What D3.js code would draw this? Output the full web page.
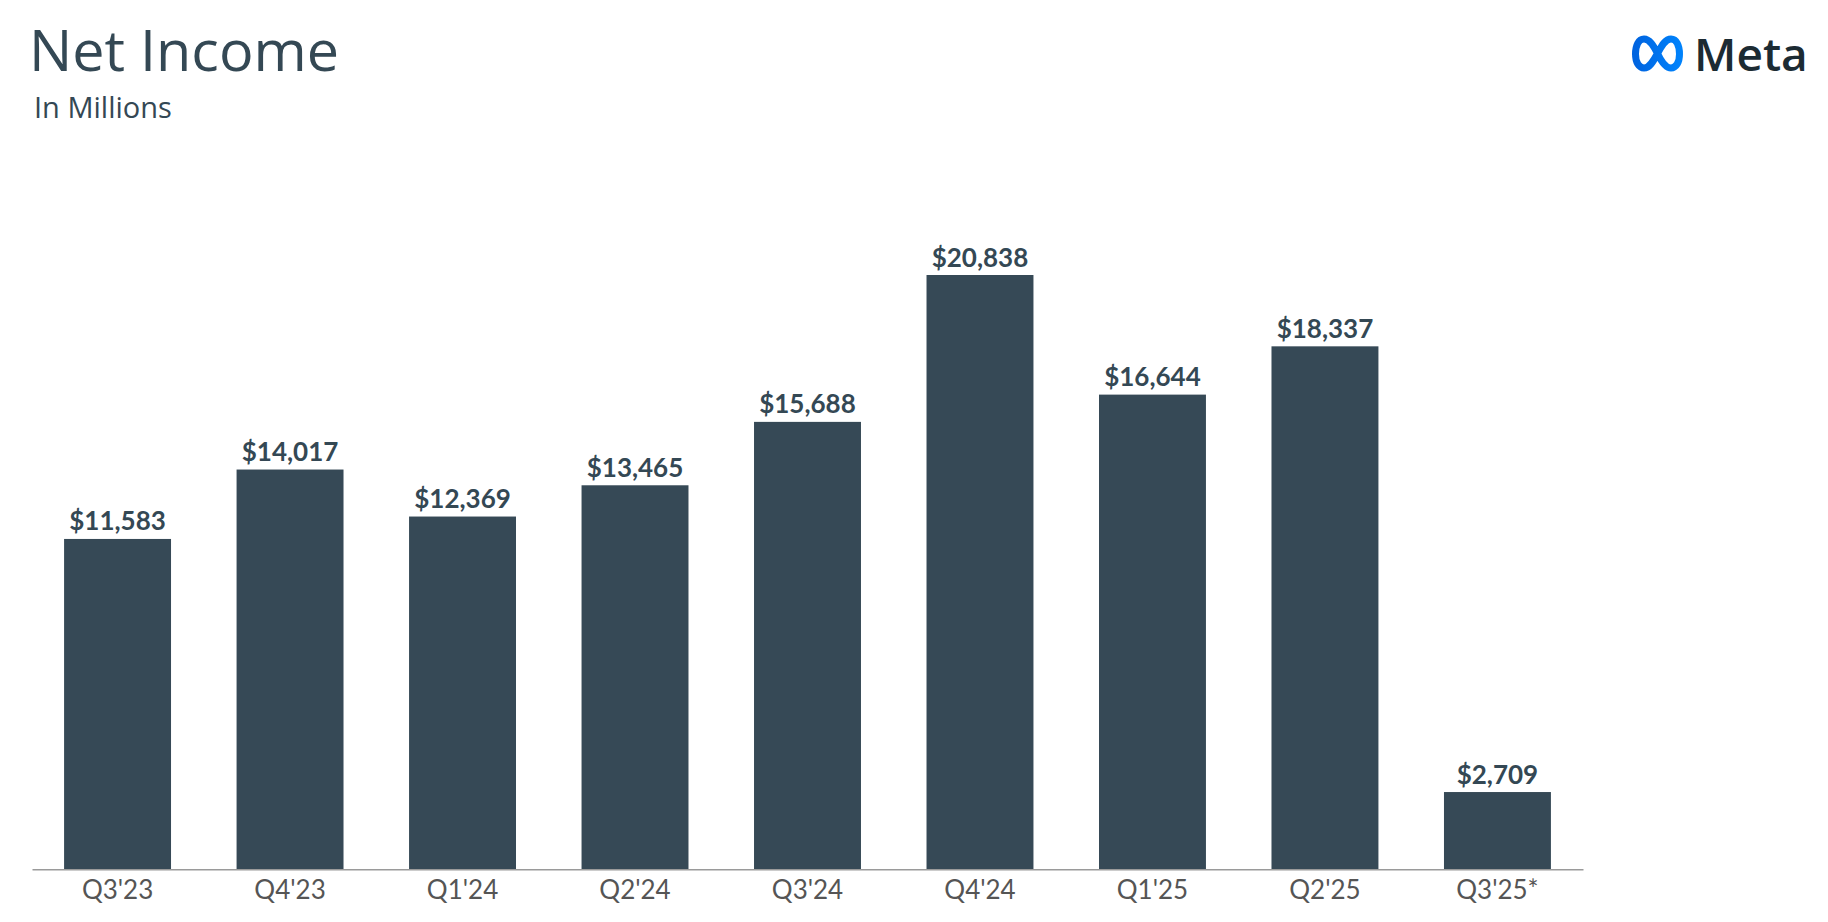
<!DOCTYPE html>
<html>
<head>
<meta charset="utf-8">
<script src="https://cdn.jsdelivr.net/npm/d3@7"></script>
<style>
  html, body { margin: 0; padding: 0; background: #ffffff; }
  svg { display: block; }
</style>
</head>
<body>
<svg id="chart" width="1828" height="922"></svg>
<script>
// ---- Data ----
const categories = ["Q3'23", "Q4'23", "Q1'24", "Q2'24", "Q3'24", "Q4'24", "Q1'25", "Q2'25", "Q3'25*"];
const netIncome = [11583, 14017, 12369, 13465, 15688, 20838, 16644, 18337, 2709];
const titleText = "Net Income";
const subtitleText = "In Millions";
const brandText = "Meta";

// ---- Layout ----
const baseline = 869.3;
const svg = d3.select("#chart");

const x = d3.scaleBand()
  .domain(categories)
  .range([32, 1583])
  .paddingInner(0.38)
  .paddingOuter(0.186);

const y = d3.scaleLinear()
  .domain([0, 25000])
  .range([baseline, baseline - 25000 * 0.02852]);

const barColor = "#364956";
const fontFamily = "Lato, 'Open Sans', sans-serif";
const headFont = "'Open Sans', sans-serif";

// Title
svg.append("text")
  .attr("x", 29).attr("y", 70.5)
  .attr("font-family", headFont)
  .attr("font-size", 57.5)
  .attr("fill", "#344854")
  .text(titleText);

svg.append("text")
  .attr("x", 34).attr("y", 118.3)
  .attr("font-family", headFont)
  .attr("font-size", 29)
  .attr("fill", "#344854")
  .text(subtitleText);

// Meta logo
const defs = svg.append("defs");
const grad = defs.append("linearGradient")
  .attr("id", "metaGrad")
  .attr("x1", "0%").attr("y1", "0%").attr("x2", "100%").attr("y2", "0%");
grad.append("stop").attr("offset", "0%").attr("stop-color", "#0064e0");
grad.append("stop").attr("offset", "100%").attr("stop-color", "#0082fb");

const logo = svg.append("g").attr("transform", "translate(1631.5,35)");
logo.append("path")
  .attr("d", "M26,18.5 C22,10.5 18,4 12.5,4 C7,4 4,10.5 4,19 C4,27.5 7.5,33 12.5,33 C18,33 21.5,27 26,18.5 C30.5,10 34,4 39.5,4 C45,4 48,10.5 48,19 C48,27.5 44.5,33 39.5,33 C34.5,33 30,27 26,18.5 Z")
  .attr("fill", "none")
  .attr("stroke", "url(#metaGrad)")
  .attr("stroke-width", 7)
  .attr("stroke-linejoin", "round");

svg.append("text")
  .attr("x", 1694).attr("y", 71)
  .attr("font-family", headFont)
  .attr("font-size", 46)
  .attr("font-weight", 600)
  .attr("fill", "#1c2b33")
  .text(brandText);

// Bars
svg.append("g")
  .selectAll("rect")
  .data(netIncome)
  .join("rect")
  .attr("x", (d, i) => x(categories[i]))
  .attr("y", d => y(d))
  .attr("width", x.bandwidth())
  .attr("height", d => y(0) - y(d))
  .attr("fill", barColor);

// Value labels
const fmt = d3.format(",");
svg.append("g")
  .selectAll("text")
  .data(netIncome)
  .join("text")
  .attr("x", (d, i) => x(categories[i]) + x.bandwidth() / 2)
  .attr("y", d => y(d) - 8.5)
  .attr("text-anchor", "middle")
  .attr("font-family", fontFamily)
  .attr("font-size", 26)
  .attr("font-weight", 700)
  .attr("fill", "#344854")
  .text(d => "$" + fmt(d));

// X axis
const xAxis = d3.axisBottom(x).tickSize(0).tickPadding(30);
const axisG = svg.append("g")
  .attr("transform", `translate(0,${baseline})`)
  .call(xAxis);
axisG.select(".domain").attr("stroke", "#9a9a9a").attr("stroke-width", 1.5);
axisG.selectAll(".tick text")
  .attr("font-family", fontFamily)
  .attr("font-size", 26)
  .attr("fill", "#555555")
  .attr("dy", 0)
  .attr("y", 30);
</script>
</body>
</html>
